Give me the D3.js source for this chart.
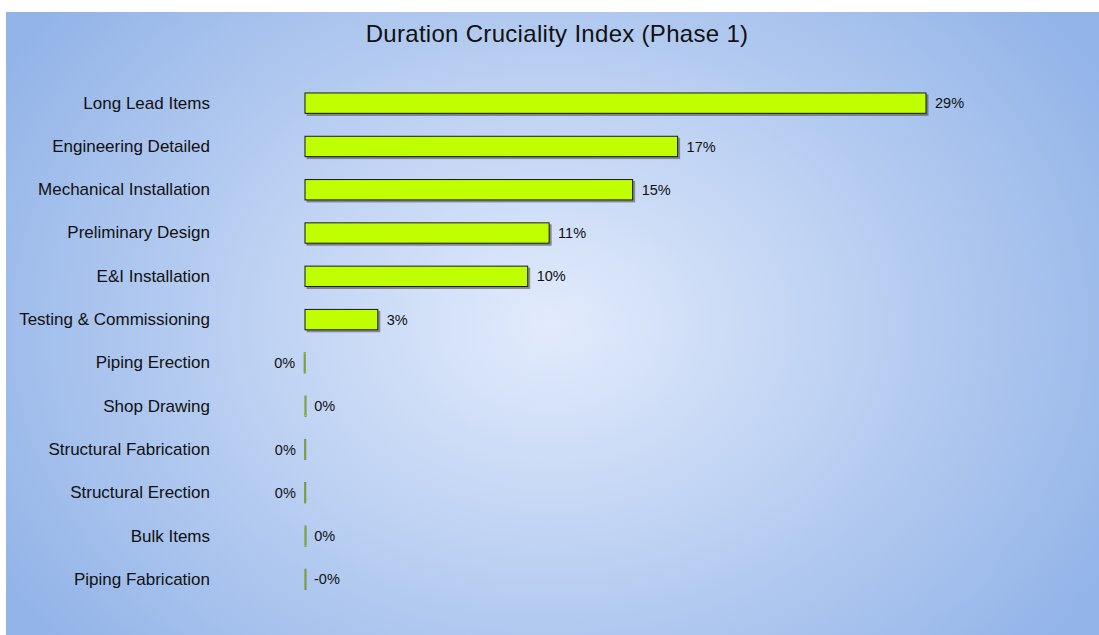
<!DOCTYPE html>
<html>
<head>
<meta charset="utf-8">
<script src="https://cdn.jsdelivr.net/npm/d3@7"></script>
<style>
  html, body { margin: 0; padding: 0; background: #ffffff; }
  svg { display: block; font-family: "Liberation Sans", Arial, sans-serif; }
</style>
</head>
<body>
<svg id="chart" width="1099" height="635"></svg>
<script>
// Activities, top to bottom
const categories = [
  "Long Lead Items", "Engineering Detailed", "Mechanical Installation",
  "Preliminary Design", "E&I Installation", "Testing & Commissioning",
  "Piping Erection", "Shop Drawing", "Structural Fabrication",
  "Structural Erection", "Bulk Items", "Piping Fabrication"
];
// Duration cruciality index per activity
const values = [0.29, 0.174, 0.153, 0.114, 0.104, 0.034,
                -0.0004, 0.0001, -0.0001, -0.0001, 0.0001, -0.00001];
// Printed value labels
const valueLabels = ["29%", "17%", "15%", "11%", "10%", "3%",
                     "0%", "0%", "0%", "0%", "0%", "-0%"];
// Side on which each value label sits
const labelSide = ["right", "right", "right", "right", "right", "right",
                   "left", "right", "left", "left", "right", "right"];

const svg = d3.select("#chart");
const W = 1099, H = 635;

// Background panel with a radial wash
const defs = svg.append("defs");
const grad = defs.append("radialGradient")
  .attr("id", "bg").attr("gradientUnits", "userSpaceOnUse")
  .attr("cx", 550).attr("cy", 325).attr("r", 640)
  .attr("gradientTransform", "translate(550,325) scale(1,0.78) translate(-550,-325)");
grad.append("stop").attr("offset", "0%").attr("stop-color", "#e2ebfc");
grad.append("stop").attr("offset", "100%").attr("stop-color", "#93b4e8");

const shadow = defs.append("filter").attr("id", "shadow")
  .attr("x", "-5%").attr("y", "-20%").attr("width", "120%").attr("height", "160%");
shadow.append("feDropShadow").attr("dx", 2).attr("dy", 2).attr("stdDeviation", 0.6)
  .attr("flood-color", "#404040").attr("flood-opacity", 0.55);

svg.append("rect").attr("x", 6).attr("y", 12).attr("width", W - 6).attr("height", H - 12)
  .attr("fill", "url(#bg)");

svg.append("text").attr("x", 557).attr("y", 42).attr("text-anchor", "middle")
  .attr("font-size", 24).attr("letter-spacing", 0.3).attr("fill", "#111")
  .text("Duration Cruciality Index (Phase 1)");

const x = d3.scaleLinear().domain([0, 0.29]).range([305, 926]);
const y = d3.scaleBand().domain(categories).range([81.5, 601]).paddingInner(0.53).paddingOuter(0.265);

// Category labels
const yAxis = svg.append("g")
  .attr("transform", "translate(210,0)")
  .call(d3.axisLeft(y).tickSize(0).tickPadding(0));
yAxis.select(".domain").remove();
yAxis.selectAll("text").attr("font-size", 17).attr("fill", "#111")
  .attr("font-family", "'Liberation Sans', Arial, sans-serif");

// Bars
const tiny = d => Math.abs(x(d) - x(0)) < 2;
svg.append("g").selectAll("rect").data(values).join("rect")
  .attr("x", d => Math.min(x(0), x(d)))
  .attr("y", (d, i) => y(categories[i]))
  .attr("width", d => Math.max(1, Math.abs(x(d) - x(0))))
  .attr("height", y.bandwidth())
  .attr("fill", "#c0ff00")
  .attr("stroke", d => tiny(d) ? "#5c7a28" : "#1a1a1a")
  .attr("stroke-width", d => tiny(d) ? 0.8 : 1)
  .attr("filter", d => tiny(d) ? null : "url(#shadow)");

// Value labels
svg.append("g").selectAll("text").data(values).join("text")
  .attr("x", (d, i) => labelSide[i] === "left" ? Math.min(x(0), x(d)) - 9 : Math.max(x(0), x(d)) + 9)
  .attr("y", (d, i) => y(categories[i]) + y.bandwidth() / 2)
  .attr("dy", "0.35em")
  .attr("text-anchor", (d, i) => labelSide[i] === "left" ? "end" : "start")
  .attr("font-size", 14.5).attr("fill", "#111")
  .text((d, i) => valueLabels[i]);
</script>
</body>
</html>
